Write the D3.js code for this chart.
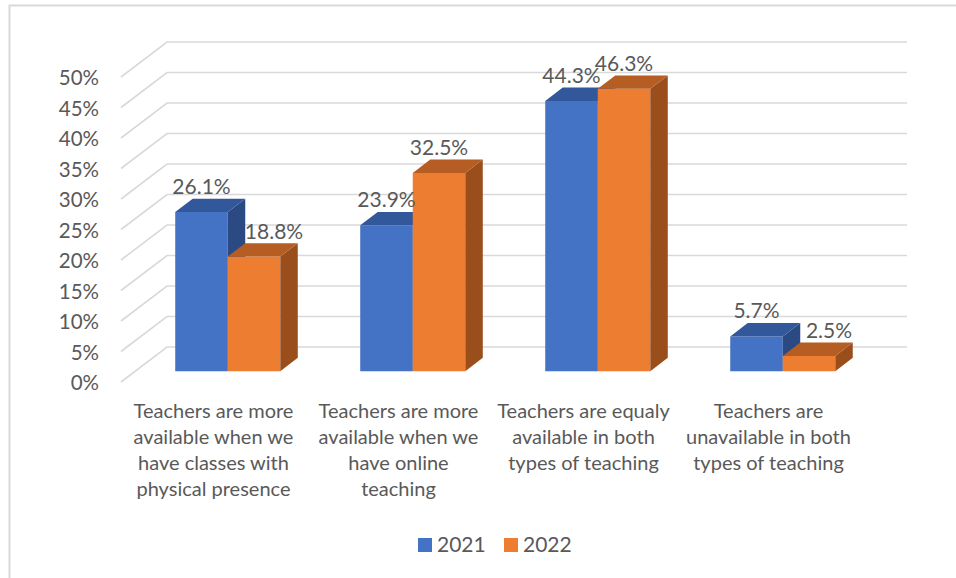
<!DOCTYPE html>
<html>
<head>
<meta charset="utf-8">
<script src="https://cdn.jsdelivr.net/npm/d3@7"></script>
<style>
  html, body { margin: 0; padding: 0; background: #fff; }
  svg { display: block; }
  text { font-family: Lato, "Noto Sans", sans-serif; fill: #595959; }
</style>
</head>
<body>
<svg id="chart" width="956" height="578"></svg>
<script>
// ---- data ----
const categories = [
  "Teachers are more available when we have classes with physical presence",
  "Teachers are more available when we have online teaching",
  "Teachers are equaly available in both types of teaching",
  "Teachers are unavailable in both types of teaching"
];
const categoryLines = [
  ["Teachers are more", "available when we", "have classes with", "physical presence"],
  ["Teachers are more", "available when we", "have online", "teaching"],
  ["Teachers are equaly", "available in both", "types of teaching"],
  ["Teachers are", "unavailable in both", "types of teaching"]
];
const seriesNames = ["2021", "2022"];
const values2021 = [26.1, 23.9, 44.3, 5.7];
const values2022 = [18.8, 32.5, 46.3, 2.5];
const tickValues = [0, 5, 10, 15, 20, 25, 30, 35, 40, 45, 50];

// ---- styling ----
const colors = {
  "2021": { front: "#4472C4", top: "#32579A", side: "#2B4A84" },
  "2022": { front: "#ED7D31", top: "#B55D22", side: "#9A4E1C" }
};
const gridColor = "#D9D9D9";

// ---- 3D oblique geometry ----
const floorX = 121;          // front-left corner of the floor
const floorW = 740;          // width of the floor along the category axis
const depthDX = 46, depthDY = 35;   // screen offset of full depth
const barD0 = 0.31, barD1 = 0.69;   // bar depth span (0 = front, 1 = back wall)

const svg = d3.select("#chart");

const y = d3.scaleLinear().domain([0, 50]).range([382, 77]);
const x = d3.scaleBand().domain(d3.range(categories.length))
  .range([0, floorW]).paddingInner(0.432).paddingOuter(0.216);
const xs = d3.scaleBand().domain(seriesNames).range([0, x.bandwidth()]);

// project (x along floor, value, depth) to screen
const P = (px, v, d) => [floorX + px + depthDX * d, y(v) - depthDY * d];
const poly = pts => "M" + pts.map(p => p.join(",")).join("L") + "Z";

// chart frame (top and left edges)
svg.append("path")
  .attr("d", "M9.5,578 L9.5,5.5 L956,5.5")
  .attr("fill", "none").attr("stroke", gridColor).attr("stroke-width", 2);

// side-wall diagonals and back-wall gridlines
const grid = svg.append("g").attr("fill", "none")
  .attr("stroke", gridColor).attr("stroke-width", 1.6);
tickValues.forEach(t => {
  const a = P(0, t, 0), b = P(0, t, 1), c = P(floorW, t, 1);
  grid.append("path").attr("d", `M${a}L${b}L${c}`);
});

// value axis labels
svg.append("g").selectAll("text").data(tickValues).join("text")
  .attr("x", 99).attr("y", d => y(d) + 1)
  .attr("dy", "0.35em").attr("text-anchor", "end")
  .style("font-size", "20.5px")
  .text(d => d + "%");

// bars, drawn left to right so later faces overlap earlier sides
const bars = [];
categories.forEach((c, i) => {
  seriesNames.forEach((s, k) => {
    const v = (k === 0 ? values2021 : values2022)[i];
    bars.push({ i, s, v, x0: x(i) + xs(s), x1: x(i) + xs(s) + xs.bandwidth() });
  });
});
const gBars = svg.append("g");
bars.forEach(b => {
  const col = colors[b.s];
  const g = gBars.append("g");
  // front face
  g.append("path").attr("fill", col.front).attr("d", poly([
    P(b.x0, 0, barD0), P(b.x1, 0, barD0), P(b.x1, b.v, barD0), P(b.x0, b.v, barD0)
  ]));
  // right side face
  g.append("path").attr("fill", col.side).attr("d", poly([
    P(b.x1, 0, barD0), P(b.x1, 0, barD1), P(b.x1, b.v, barD1), P(b.x1, b.v, barD0)
  ]));
  // top face
  g.append("path").attr("fill", col.top).attr("d", poly([
    P(b.x0, b.v, barD0), P(b.x1, b.v, barD0), P(b.x1, b.v, barD1), P(b.x0, b.v, barD1)
  ]));
});

// value labels above each bar
svg.append("g").selectAll("text").data(bars).join("text")
  .attr("x", b => {
    const cx = P((b.x0 + b.x1) / 2, b.v, barD0)[0];
    // nudge a shorter 2022 label clear of the taller neighbour
    const other = values2021[b.i];
    return (b.s === "2022" && b.v < other) ? cx + 20 : cx;
  })
  .attr("y", b => P(b.x0, b.v, barD1)[1] - 12)
  .attr("dy", "0.35em").attr("text-anchor", "middle")
  .style("font-size", "21px")
  .text(b => b.v.toFixed(1) + "%");

// category labels on the front edge of the floor
const gCat = svg.append("g");
categoryLines.forEach((lines, i) => {
  const cx = floorX + x(i) + x.bandwidth() / 2;
  const t = gCat.append("text").attr("text-anchor", "middle")
    .style("font-size", "20px");
  lines.forEach((ln, j) => {
    t.append("tspan").attr("x", cx).attr("y", 410.7 + j * 26)
      .attr("dy", "0.35em").text(ln);
  });
});

// legend
const legend = svg.append("g");
const legendPos = [418, 504];
seriesNames.forEach((s, k) => {
  legend.append("rect").attr("x", legendPos[k]).attr("y", 538)
    .attr("width", 14).attr("height", 14).attr("fill", colors[s].front);
  legend.append("text").attr("x", legendPos[k] + 19).attr("y", 545)
    .attr("dy", "0.35em").style("font-size", "21px").text(s);
});
</script>
</body>
</html>
